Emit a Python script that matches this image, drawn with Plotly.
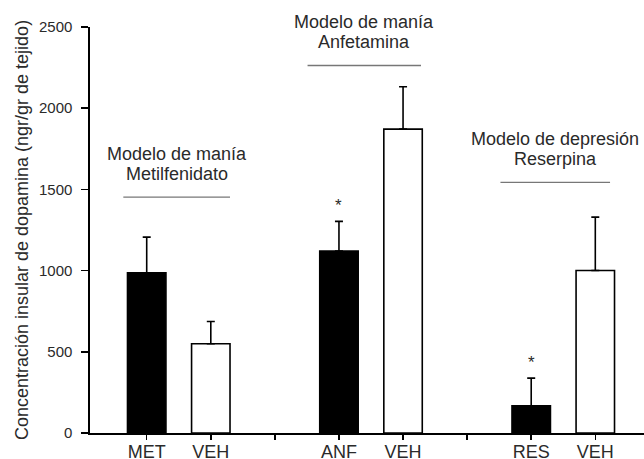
import plotly.graph_objects as go

# ---- data ----
bar_labels = ["MET", "VEH", "ANF", "VEH", "RES", "VEH"]
bar_slots = [0, 1, 3, 4, 6, 7]
means = [987, 550, 1120, 1871, 168, 1001]
sem = [219, 137, 183, 261, 170, 328]
fills = ["black", "white", "black", "white", "black", "white"]
significant = [False, False, True, False, True, False]

tick_slots = [0, 1, 2, 3, 4, 5, 6, 7]
tick_text = ["MET", "VEH", "", "ANF", "VEH", "", "RES", "VEH"]
y_ticks = [0, 500, 1000, 1500, 2000, 2500]

groups = [
    ("Modelo de manía", "Metilfenidato", -0.365, 1.30, 1452),
    ("Modelo de manía", "Anfetamina", 2.51, 4.28, 2263),
    ("Modelo de depresión", "Reserpina", 5.52, 7.23, 1543),
]

FONT = "Liberation Sans, Arial, sans-serif"
TXT = "#2a2a2a"

fig = go.Figure()
fig.add_trace(go.Bar(
    x=bar_slots, y=means, width=0.6,
    marker=dict(color=fills, line=dict(color="black", width=1.6)),
    error_y=dict(type="data", symmetric=False, array=sem,
                 arrayminus=[0] * len(sem), color="black",
                 thickness=1.6, width=4),
    showlegend=False, hoverinfo="skip",
))

annotations = []
shapes = []
for x, m, e, s in zip(bar_slots, means, sem, significant):
    if s:
        annotations.append(dict(x=x, y=m + e, xref="x", yref="y", text="*",
                                showarrow=False, yshift=16,
                                font=dict(family=FONT, size=17, color=TXT)))

for l1, l2, x0, x1, yl in groups:
    shapes.append(dict(type="line", xref="x", yref="y", x0=x0, x1=x1,
                       y0=yl, y1=yl, line=dict(color="#777777", width=1.3)))
    xc = (x0 + x1) / 2
    annotations.append(dict(x=xc, y=yl, xref="x", yref="y", text=l1,
                            showarrow=False, yshift=43, yanchor="middle",
                            font=dict(family=FONT, size=18, color=TXT)))
    annotations.append(dict(x=xc, y=yl, xref="x", yref="y", text=l2,
                            showarrow=False, yshift=23, yanchor="middle",
                            font=dict(family=FONT, size=18, color=TXT)))

fig.update_layout(
    width=644, height=459,
    margin=dict(l=90, r=0, t=27, b=26, autoexpand=False),
    paper_bgcolor="white", plot_bgcolor="white",
    font=dict(family=FONT, color=TXT),
    bargap=0,
    shapes=shapes, annotations=annotations,
    xaxis=dict(range=[-0.885, 7.76], tickmode="array", tickvals=tick_slots,
               ticktext=tick_text, ticks="outside", ticklen=5, tickwidth=1.5,
               tickcolor="black", showline=True, linecolor="black",
               linewidth=1.6, showgrid=False, zeroline=False,
               ticklabelstandoff=-3, automargin=False,
               tickfont=dict(family=FONT, size=18, color=TXT)),
    yaxis=dict(range=[0, 2500], tickmode="array", tickvals=y_ticks,
               ticks="outside", ticklen=7, tickwidth=1.5, tickcolor="black",
               showline=True, linecolor="black", linewidth=1.6,
               showgrid=False, zeroline=False, ticklabelstandoff=6,
               automargin=False,
               tickfont=dict(family=FONT, size=15, color=TXT),
               title=dict(text="Concentración insular de dopamina (ngr/gr de tejido)",
                          font=dict(family=FONT, size=18, color=TXT),
                          standoff=6)),
)

fig.write_html(
    "out.html",
    config={"displayModeBar": False, "staticPlot": True},
    post_script="document.body.style.margin='0';document.body.style.overflow='hidden';",
)
